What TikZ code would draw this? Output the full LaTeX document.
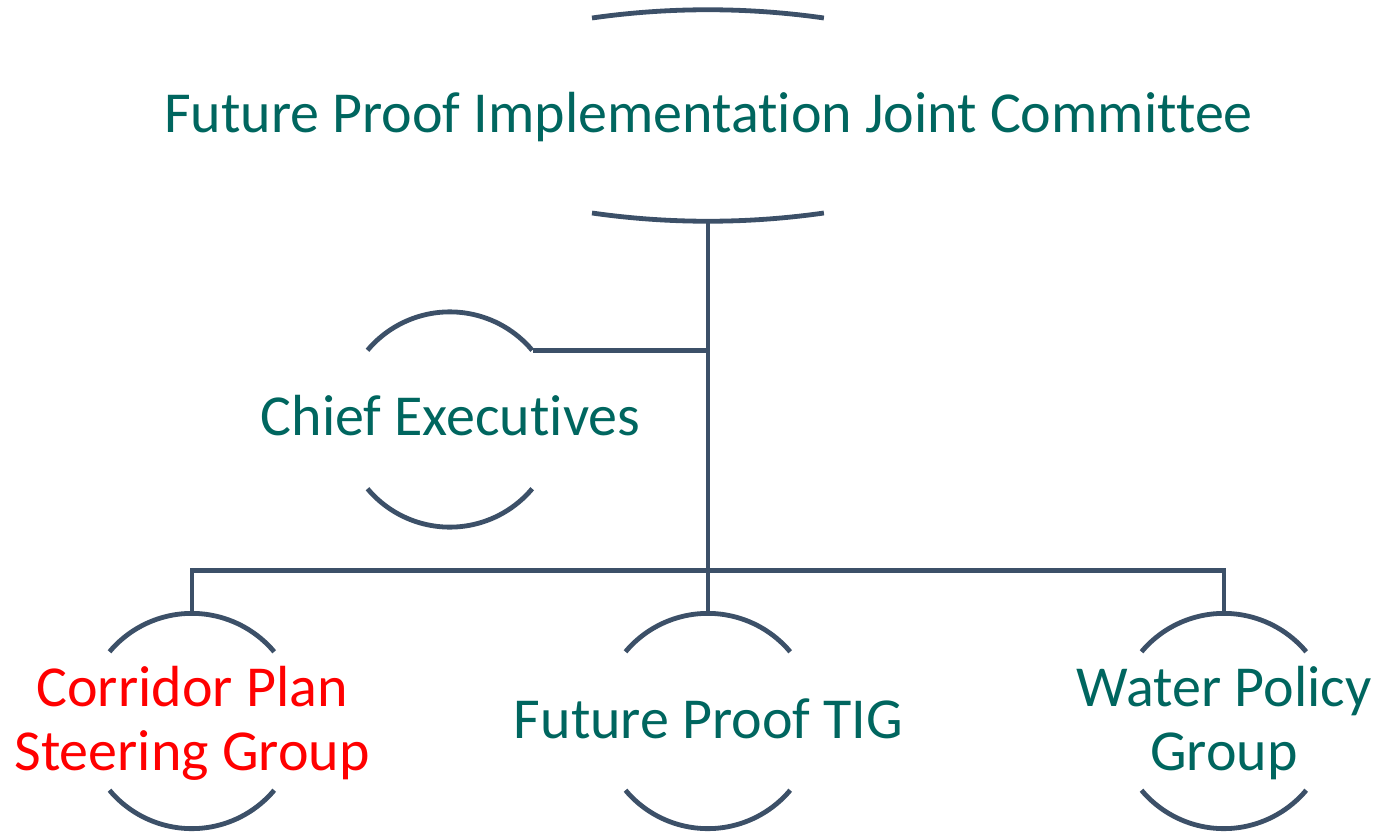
\documentclass[tikz,border=0pt]{standalone}
\usepackage{fontspec}
\setmainfont{Carlito}[Ligatures=NoCommon]
\definecolor{lineblue}{HTML}{3C5068}
\definecolor{teal}{HTML}{00665F}
\definecolor{redtxt}{HTML}{FF0000}
\begin{document}
\begin{tikzpicture}[x=1pt,y=1pt,
  arcline/.style={draw=lineblue,line width=4.8pt},
  conn/.style={draw=lineblue,line width=4.8pt,line join=miter},
  circ/.style={circle,inner sep=0pt,minimum size=215pt,draw=none},
  lbl/.style={font=\fontsize{58}{64}\selectfont,text=teal,align=center,inner sep=0pt},
]
\useasboundingbox (0,0) rectangle (1381,-832);
% top committee
\node[lbl,anchor=base] (fp) at (708.5,-132) {Future Proof Implementation Joint Committee};
\coordinate (fptl) at (592,-18);
\coordinate (fpbl) at (592,-213);
\coordinate (fpb) at (708,-221.2);
\draw[arcline] (fptl) arc[start angle=98.13,end angle=81.87,radius=820pt];
\draw[arcline] (fpbl) arc[start angle=261.87,end angle=278.13,radius=820pt];
% chief executives
\node[circ] (ce) at (450,-419.5) {};
\node[lbl,anchor=base] (cet) at (450.5,-435) {Chief Executives};
\draw[arcline] (ce.140) arc[start angle=140,end angle=40,radius=107.5pt];
\draw[arcline] (ce.220) arc[start angle=220,end angle=320,radius=107.5pt];
% bottom circles
\node[circ] (cp) at (192,-721) {};
\node[circ] (tig) at (708,-721) {};
\node[circ] (wp) at (1224,-721) {};
\foreach \n in {cp,tig,wp}{
  \draw[arcline] (\n.140) arc[start angle=140,end angle=40,radius=107.5pt];
  \draw[arcline] (\n.220) arc[start angle=220,end angle=320,radius=107.5pt];
}
\node[lbl,text=redtxt] (cpt) at (192,-723.5) {Corridor Plan\\Steering Group};
\node[lbl,anchor=base] (tigt) at (708.5,-738) {Future Proof TIG};
\node[lbl] (wpt) at (1224,-723.5) {Water Policy\\Group};
% connectors
\coordinate (bus) at (708,-570.5);
\draw[conn] (fpb) -- (bus) -- (tig.north);
\draw[conn] (ce.40) -- (ce.40 -| fpb);
\draw[conn] (cp.north) -- (cp.north |- bus) -- (wp.north |- bus) -- (wp.north);
\end{tikzpicture}
\end{document}
